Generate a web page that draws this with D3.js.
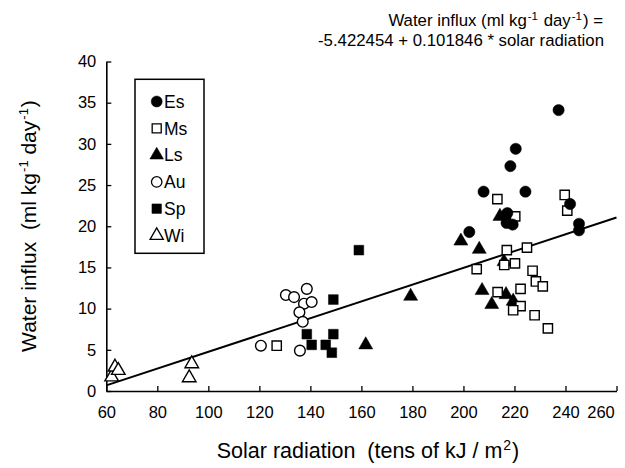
<!DOCTYPE html>
<html><head><meta charset="utf-8">
<script src="https://cdn.jsdelivr.net/npm/d3@7"></script>
<style>
html,body{margin:0;padding:0;background:#fff;}
text{font-family:"Liberation Sans",Arial,Helvetica,sans-serif;fill:#000;}
</style></head>
<body>
<svg id="c" width="625" height="468"></svg>
<script>
// ---- data ----
const seriesNames = ["Es","Ms","Ls","Au","Sp","Wi"];
const esX = [237.3,220.5,218.4,207.9,224.3,202.3,217.2,216.9,219.3,241.8,245.3,245.3];
const esY = [34.1,29.4,27.3,24.2,24.2,19.3,21.6,20.4,20.2,22.7,20.3,19.5];
const msX = [213.3,239.7,240.7,220.3,217.0,224.9,205.2,216.0,220.2,227.1,228.4,231.1,222.4,213.4,222.4,219.5,227.9,233.1,126.8];
const msY = [23.3,23.8,21.9,21.2,17.1,17.4,14.8,15.3,15.5,14.6,13.3,12.7,12.4,12.0,10.3,9.8,9.2,7.6,5.5];
const lsX = [179.3,199.0,206.2,214.3,215.9,207.3,211.1,216.7,219.5,161.7];
const lsY = [11.5,18.2,17.2,21.2,15.7,12.2,10.5,11.7,10.9,5.6];
const auX = [120.6,135.9,130.4,133.6,138.6,137.5,140.5,135.7,137.0];
const auY = [5.5,4.9,11.65,11.4,12.4,10.6,10.8,9.55,8.4];
const spX = [159.0,149.0,138.6,140.5,146.0,149.0,148.4];
const spY = [17.1,11.1,6.9,5.6,5.6,6.9,4.65];
const wiX = [62.1,63.4,64.7,92.5,93.5];
const wiY = [1.7,2.9,2.5,1.6,3.3];
const xTicks = [60,80,100,120,140,160,180,200,220,240,260];
const yTicks = [0,5,10,15,20,25,30,35,40];
const intercept = -5.422454, slope = 0.101846;
const regX = [60,260];

// ---- chart ----
const svg = d3.select("#c");
const x = d3.scaleLinear().domain([60,260]).range([106.3,616.5]);
const y = d3.scaleLinear().domain([0,40]).range([391,61.5]);

const xAxis = svg.append("g").attr("transform","translate(0,391)")
  .call(d3.axisBottom(x).tickValues(xTicks).tickSizeInner(-5).tickSizeOuter(0).tickPadding(15));
const yAxis = svg.append("g").attr("transform","translate(106.3,0)")
  .call(d3.axisLeft(y).tickValues(yTicks).tickSizeInner(-5).tickSizeOuter(0).tickPadding(10));
[xAxis,yAxis].forEach(a=>{
  a.select(".domain").attr("stroke","#000").attr("stroke-width",1.6);
  a.selectAll(".tick line").attr("stroke","#000").attr("stroke-width",1.3);
  a.selectAll("text").attr("font-size",16.5).attr("font-family","Liberation Sans, Arial, sans-serif");
});
xAxis.selectAll(".tick text").filter(d=>d===260).attr("dx",-16);

// regression line
svg.append("path")
  .attr("d", d3.line().x(d=>x(d)).y(d=>y(intercept+slope*d))(regX))
  .attr("stroke","#000").attr("stroke-width",2).attr("fill","none");

const styles = {
  Es:{type:d3.symbolCircle,size:100,fill:"#000"},
  Ms:{type:d3.symbolSquare,size:86,fill:"#fff"},
  Ls:{type:d3.symbolTriangle,size:85,fill:"#000"},
  Au:{type:d3.symbolCircle,size:90,fill:"#fff"},
  Sp:{type:d3.symbolSquare,size:95,fill:"#000"},
  Wi:{type:d3.symbolTriangle,size:80,fill:"#fff"}
};
const seriesData = {Es:[esX,esY],Ms:[msX,msY],Ls:[lsX,lsY],Au:[auX,auY],Sp:[spX,spY],Wi:[wiX,wiY]};

function drawSeries(name){
  const s = styles[name];
  const [xs,ys] = seriesData[name];
  svg.append("g").selectAll("path").data(xs.map((v,i)=>[v,ys[i]])).join("path")
    .attr("transform",d=>`translate(${x(d[0])},${y(d[1])})`)
    .attr("d",d3.symbol().type(s.type).size(s.size))
    .attr("fill",s.fill).attr("stroke","#000").attr("stroke-width",s.fill==="#000"?0.5:1.4);
}
["Wi","Au","Sp","Ls","Ms","Es"].forEach(drawSeries);

// legend
const lg = svg.append("g");
lg.append("rect").attr("x",135).attr("y",79.3).attr("width",69).attr("height",174)
  .attr("fill","#fff").attr("stroke","#000").attr("stroke-width",1.5);
seriesNames.forEach((n,i)=>{
  const cy = 101.5 + i*26.8;
  const s = styles[n];
  lg.append("path").attr("transform",`translate(156.7,${cy})`)
    .attr("d",d3.symbol().type(s.type).size(s.size*0.95))
    .attr("fill",s.fill).attr("stroke","#000").attr("stroke-width",s.fill==="#000"?0.5:1.3);
  lg.append("text").attr("x",164).attr("y",cy).attr("dy","0.36em")
    .attr("font-size",17.5).text(n);
});

// axis titles
const yt = svg.append("text").attr("transform","translate(36,226) rotate(-90)")
  .attr("text-anchor","middle").attr("font-size",21);
yt.append("tspan").text("Water influx\u00a0\u00a0(ml kg");
yt.append("tspan").attr("font-size",13).attr("dy",-8).attr("dx",1).text("-1");
yt.append("tspan").attr("dy",8).text("\u00a0day");
yt.append("tspan").attr("font-size",13).attr("dy",-8).attr("dx",1).text("-1");
yt.append("tspan").attr("dy",8).attr("dx",1).text(")");

const xt = svg.append("text").attr("x",368).attr("y",458)
  .attr("text-anchor","middle").attr("font-size",21.5);
xt.append("tspan").text("Solar radiation\u00a0\u00a0(tens of kJ / m");
xt.append("tspan").attr("font-size",14).attr("dy",-8).attr("dx",1).text("2");
xt.append("tspan").attr("dy",8).attr("dx",1).text(")");

// equation
const e1 = svg.append("text").attr("x",603).attr("y",25.5).attr("text-anchor","end").attr("font-size",16.8);
e1.append("tspan").text("Water influx (ml kg");
e1.append("tspan").attr("font-size",11.5).attr("dy",-6).attr("dx",1).text("-1");
e1.append("tspan").attr("dy",6).attr("dx",1).text(" day");
e1.append("tspan").attr("font-size",11.5).attr("dy",-6).attr("dx",1).text("-1");
e1.append("tspan").attr("dy",6).attr("dx",1).text(") =");
svg.append("text").attr("x",604).attr("y",45.5).attr("text-anchor","end").attr("font-size",16.8)
  .text("-5.422454 + 0.101846 * solar radiation");
</script>
</body></html>
